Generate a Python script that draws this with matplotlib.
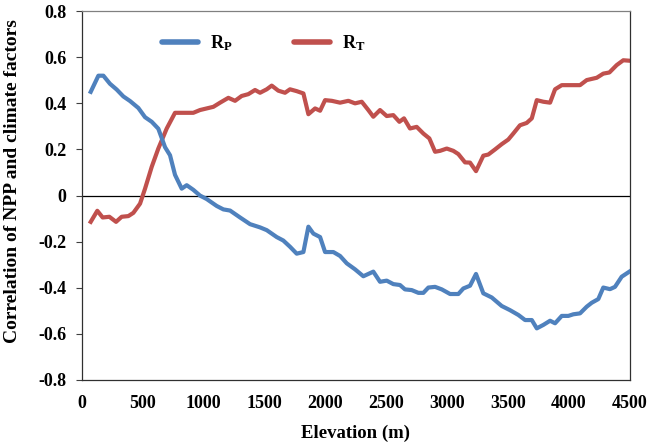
import matplotlib
matplotlib.use("Agg")
import matplotlib.pyplot as plt

plt.rcParams['font.family'] = ['Liberation Serif', 'DejaVu Serif']
plt.rcParams['font.weight'] = 'bold'
plt.rcParams['mathtext.fontset'] = 'custom'
plt.rcParams['mathtext.rm'] = 'Liberation Serif:bold'
plt.rcParams['mathtext.bf'] = 'Liberation Serif:bold'
plt.rcParams['mathtext.it'] = 'Liberation Serif:bold'

# R_P (correlation of NPP with precipitation)
rp_x = [74, 137, 178, 232, 287, 342, 397, 465, 520, 575, 629, 684, 725, 766, 821, 862,
        916, 971, 1026, 1108, 1163, 1218, 1300, 1382, 1464, 1519, 1601, 1655, 1710, 1765,
        1820, 1861, 1902, 1957, 1998, 2066, 2121, 2176, 2244, 2312, 2394, 2449, 2504,
        2558, 2613, 2654, 2709, 2764, 2805, 2846, 2901, 2956, 3024, 3092, 3133, 3188,
        3237, 3297, 3366, 3448, 3516, 3585, 3640, 3695, 3736, 3790, 3845, 3886, 3941,
        3995, 4036, 4091, 4146, 4187, 4241, 4282, 4337, 4378, 4433, 4496]
rp_y = [0.45, 0.52, 0.52, 0.485, 0.46, 0.43, 0.41, 0.38, 0.34, 0.32, 0.29, 0.21, 0.175,
        0.09, 0.03, 0.045, 0.025, 0.0, -0.015, -0.045, -0.06, -0.065, -0.095, -0.124,
        -0.138, -0.15, -0.18, -0.195, -0.222, -0.252, -0.245, -0.135, -0.165, -0.18,
        -0.245, -0.245, -0.262, -0.294, -0.32, -0.35, -0.33, -0.374, -0.369, -0.384,
        -0.388, -0.407, -0.41, -0.422, -0.422, -0.399, -0.396, -0.407, -0.427, -0.427,
        -0.403, -0.391, -0.34, -0.424, -0.442, -0.479, -0.497, -0.518, -0.54, -0.54,
        -0.576, -0.561, -0.543, -0.554, -0.522, -0.522, -0.515, -0.511, -0.482, -0.465,
        -0.449, -0.399, -0.406, -0.396, -0.352, -0.33]

# R_T (correlation of NPP with temperature)
rt_x = [74, 128, 172, 227, 282, 328, 383, 424, 479, 520, 575, 629, 698, 766, 835, 916,
        971, 1026, 1081, 1136, 1204, 1259, 1313, 1368, 1423, 1464, 1519, 1560, 1614,
        1669, 1710, 1765, 1820, 1861, 1916, 1957, 1998, 2053, 2121, 2189, 2244, 2299,
        2353, 2394, 2449, 2504, 2558, 2608, 2646, 2695, 2750, 2805, 2854, 2901, 2942,
        2997, 3051, 3092, 3147, 3188, 3237, 3297, 3338, 3393, 3448, 3502, 3543, 3598,
        3653, 3695, 3736, 3790, 3845, 3886, 3941, 4009, 4091, 4146, 4228, 4282, 4332,
        4392, 4446, 4496]
rt_y = [-0.114, -0.066, -0.095, -0.092, -0.114, -0.092, -0.089, -0.075, -0.035, 0.03,
        0.125, 0.204, 0.291, 0.359, 0.359, 0.359, 0.371, 0.378, 0.385, 0.403, 0.424,
        0.411, 0.432, 0.44, 0.458, 0.446, 0.461, 0.477, 0.455, 0.446, 0.461, 0.453,
        0.443, 0.353, 0.378, 0.368, 0.414, 0.411, 0.403, 0.411, 0.4, 0.407, 0.371,
        0.342, 0.371, 0.345, 0.349, 0.32, 0.335, 0.291, 0.298, 0.269, 0.248, 0.19,
        0.194, 0.204, 0.194, 0.18, 0.144, 0.143, 0.106, 0.173, 0.178, 0.2, 0.223,
        0.243, 0.269, 0.305, 0.315, 0.335, 0.414, 0.407, 0.403, 0.461, 0.479, 0.479,
        0.479, 0.501, 0.511, 0.529, 0.534, 0.566, 0.587, 0.585]

x_ticks = [0, 500, 1000, 1500, 2000, 2500, 3000, 3500, 4000, 4500]
y_ticks = [-0.8, -0.6, -0.4, -0.2, 0, 0.2, 0.4, 0.6, 0.8]
y_labels = ['-0.8', '-0.6', '-0.4', '-0.2', '0', '0.2', '0.4', '0.6', '0.8']

fig = plt.figure(figsize=(6.5, 4.46), dpi=100)
ax = fig.add_axes([0.1257, 0.148, 0.969 - 0.1257, 0.975 - 0.148])

ax.axhline(0, color='black', lw=0.9, zorder=1)
ax.plot(rp_x, rp_y, color='#4F81BD', lw=3.0, label=r'R$_\mathrm{P}$', zorder=3,
        solid_joinstyle='round')
ax.plot(rt_x, rt_y, color='#C0504D', lw=3.0, label=r'R$_\mathrm{T}$', zorder=2,
        solid_joinstyle='round')

ax.set_xlim(0, 4500)
ax.set_ylim(-0.8, 0.8)
ax.set_xticks(x_ticks)
ax.set_xticklabels([str(v) for v in x_ticks])
ax.set_yticks(y_ticks)
ax.set_yticklabels(y_labels)
ax.tick_params(axis='x', length=0, pad=11, labelsize=13)
ax.tick_params(axis='y', length=4, width=0.8, direction='out', pad=7, labelsize=13,
               color='#404040')

for s in ['left', 'bottom', 'right']:
    ax.spines[s].set_color('#303030')
    ax.spines[s].set_linewidth(0.9)
ax.spines['top'].set_color('#808080')
ax.spines['top'].set_linewidth(0.9)

ax.set_xlabel('Elevation (m)', fontsize=13.5, fontweight='bold', labelpad=9)
ax.set_ylabel('Correlation of NPP and climate factors', fontsize=14, fontweight='bold')
ax.yaxis.set_label_coords(-0.110, 0.54)

leg = ax.legend(loc='upper left', bbox_to_anchor=(0.117, 0.985), ncol=2, frameon=False,
                fontsize=13, handlelength=2.0, columnspacing=3.4, handletextpad=0.67)
for line in leg.get_lines():
    line.set_linewidth(4.0)
    line.set_solid_capstyle('round')

fig.savefig('out.png', dpi=100)
